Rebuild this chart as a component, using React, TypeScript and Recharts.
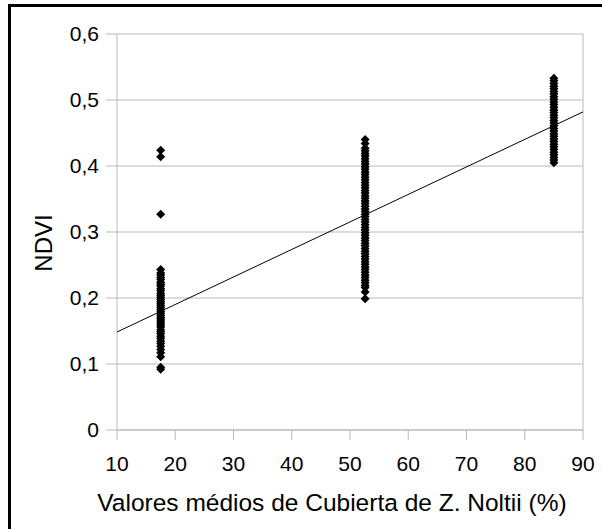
import { ScatterChart, Scatter, XAxis, YAxis, CartesianGrid, ReferenceLine } from "recharts"

// mean Z. noltii cover (%) of each sampling group
const coverLevels = [17.5, 52.6, 85.0]

// NDVI of every pixel, one array per cover group
const lowCoverNdvi = [
  0.424, 0.414, 0.327, 0.243, 0.238, 0.235, 0.231, 0.228, 0.224, 0.221, 0.218, 0.214, 0.211,
  0.207, 0.204, 0.201, 0.198, 0.195, 0.192, 0.189, 0.186, 0.183, 0.18, 0.177, 0.174, 0.171,
  0.168, 0.165, 0.162, 0.159, 0.156, 0.152, 0.149, 0.146, 0.142, 0.139, 0.135, 0.131, 0.127,
  0.122, 0.117, 0.111, 0.095, 0.092,
]
const midCoverNdvi = [
  0.44, 0.434, 0.427, 0.423, 0.419, 0.415, 0.411, 0.407, 0.403, 0.399, 0.395, 0.391, 0.387,
  0.383, 0.379, 0.375, 0.371, 0.367, 0.363, 0.359, 0.355, 0.351, 0.347, 0.343, 0.339, 0.335,
  0.331, 0.327, 0.323, 0.319, 0.315, 0.311, 0.307, 0.303, 0.299, 0.295, 0.291, 0.287, 0.283,
  0.279, 0.275, 0.271, 0.267, 0.263, 0.259, 0.255, 0.251, 0.247, 0.243, 0.239, 0.235, 0.231,
  0.227, 0.223, 0.219, 0.216, 0.209, 0.199,
]
const highCoverNdvi = [
  0.533, 0.529, 0.525, 0.521, 0.517, 0.513, 0.509, 0.505, 0.501, 0.497, 0.493, 0.489, 0.485,
  0.481, 0.477, 0.473, 0.469, 0.465, 0.461, 0.457, 0.453, 0.449, 0.445, 0.441, 0.437, 0.433,
  0.429, 0.425, 0.421, 0.417, 0.413, 0.409, 0.405,
]

// linear fit (ends of the plotted line)
const trendLine = [
  { x: 10, y: 0.1485 },
  { x: 90, y: 0.482 },
]

const xTicks = [10, 20, 30, 40, 50, 60, 70, 80, 90]
const yTicks = [0, 0.1, 0.2, 0.3, 0.4, 0.5, 0.6]

const points = [lowCoverNdvi, midCoverNdvi, highCoverNdvi].flatMap((group, i) =>
  group.map(y => ({ x: coverLevels[i], y }))
)

const FONT = "'Liberation Sans', Arial, sans-serif"
const GRID = "#b9b9b9"

const Diamond = (props: any) => {
  const { cx, cy } = props
  const r = 4.5
  return <path d={`M${cx},${cy - r}L${cx + r},${cy}L${cx},${cy + r}L${cx - r},${cy}Z`} fill="#000" />
}

export default function App() {
  return (
    <div style={{ position: "fixed", left: 0, top: 0, width: 602, height: 529, overflow: "hidden", background: "#fff" }}>
      <div
        style={{
          position: "absolute",
          left: 8,
          top: 4,
          width: 700,
          height: 700,
          borderTop: "3px solid #000",
          borderLeft: "3px solid #000",
        }}
      />
      <div style={{ position: "absolute", left: 0, top: 0 }}>
        <ScatterChart width={602} height={529} margin={{ top: 34, right: 19, bottom: 0, left: 0 }}>
          <CartesianGrid vertical={false} stroke={GRID} />
          <XAxis
            type="number"
            dataKey="x"
            domain={[10, 90]}
            ticks={xTicks}
            allowDataOverflow
            height={99}
            stroke={GRID}
            tickSize={10}
            tickMargin={16}
            tick={{ fill: "#000", fontSize: 21, fontFamily: FONT }}
            label={{
              content: () => (
                <text x={332} y={511} textAnchor="middle" fill="#000" fontSize={24.5} fontFamily={FONT}>
                  Valores médios de Cubierta de Z. Noltii (%)
                </text>
              ),
            }}
          />
          <YAxis
            type="number"
            dataKey="y"
            domain={[0, 0.6]}
            ticks={yTicks}
            width={117}
            stroke={GRID}
            tickSize={11}
            tickMargin={7}
            tick={{ fill: "#000", fontSize: 21, fontFamily: FONT }}
            tickFormatter={(v: number) => String(v).replace(".", ",")}
            label={{
              content: () => (
                <text
                  x={43.5}
                  y={243}
                  transform="rotate(-90 43.5 243)"
                  textAnchor="middle"
                  dominantBaseline="central"
                  fill="#000"
                  fontSize={24}
                  fontFamily={FONT}
                >
                  NDVI
                </text>
              ),
            }}
          />
          <ReferenceLine x={90} stroke={GRID} />
          <Scatter data={points} shape={<Diamond />} isAnimationActive={false} legendType="none" />
          <Scatter
            data={trendLine}
            line={{ stroke: "#000", strokeWidth: 1 }}
            shape={() => <g />}
            isAnimationActive={false}
            legendType="none"
          />
        </ScatterChart>
      </div>
    </div>
  )
}
